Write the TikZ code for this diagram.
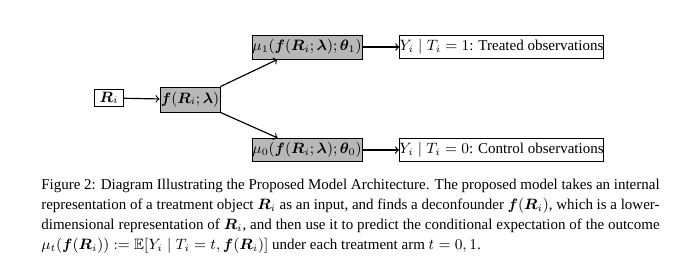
\documentclass[tikz,border=0pt]{standalone}
\usepackage{amsmath,amssymb,bm}
\usepackage{fontspec}
\setmainfont{Liberation Serif}
\begin{document}
\begin{tikzpicture}[x=0.6pt,y=-0.6pt,
  box/.style={draw=black,line width=0.5pt,inner sep=0pt,font=\fontsize{9}{12}\selectfont},
  gbox/.style={box,fill=black!28},
  arr/.style={->,line width=0.7pt}]
\useasboundingbox (0,0) rectangle (680,265);
\node[box,minimum width=17pt,minimum height=10.2pt] (R) at (109,98) {$\bm{R}_i$};
\node[gbox,minimum width=36pt,minimum height=15pt] (f) at (190,99.5) {$\bm{f}(\bm{R}_i;\bm{\lambda})$};
\node[gbox,minimum width=66pt,minimum height=14.4pt] (mu1) at (307,47) {$\mu_1(\bm{f}(\bm{R}_i;\bm{\lambda});\bm{\theta}_1)$};
\node[box,minimum width=121.8pt,minimum height=13.8pt] (y1) at (501.5,47) {$Y_i\mid T_i=1$: Treated observations};
\node[gbox,minimum width=66pt,minimum height=14pt] (mu0) at (307,150) {$\mu_0(\bm{f}(\bm{R}_i;\bm{\lambda});\bm{\theta}_0)$};
\node[box,minimum width=121.8pt,minimum height=13.8pt] (y0) at (501.5,150) {$Y_i\mid T_i=0$: Control observations};
\draw[arr] (R) -- (f);
\draw[arr] (f.north east) -- ([xshift=15.6pt]mu1.south west);
\draw[arr] (f.south east) -- ([xshift=15.6pt]mu0.north west);
\draw[arr] (mu1) -- (y1);
\draw[arr] (mu0) -- (y0);
\node[anchor=north west,inner sep=0pt,text width=371pt,align=justify,font=\fontsize{9}{12}\selectfont] (cap) at (41,179)
{Figure 2: Diagram Illustrating the Proposed Model Architecture. The proposed model takes an internal\linebreak
representation of a treatment object $\bm{R}_i$ as an input, and finds a deconfounder $\bm{f}(\bm{R}_i)$, which is a lower-\linebreak
dimensional representation of $\bm{R}_i$, and then use it to predict the conditional expectation of the outcome\linebreak
$\mu_t(\bm{f}(\bm{R}_i)) := \mathbb{E}[Y_i \mid T_i = t, \bm{f}(\bm{R}_i)]$ under each treatment arm $t=0,1$.};
\end{tikzpicture}
\end{document}
